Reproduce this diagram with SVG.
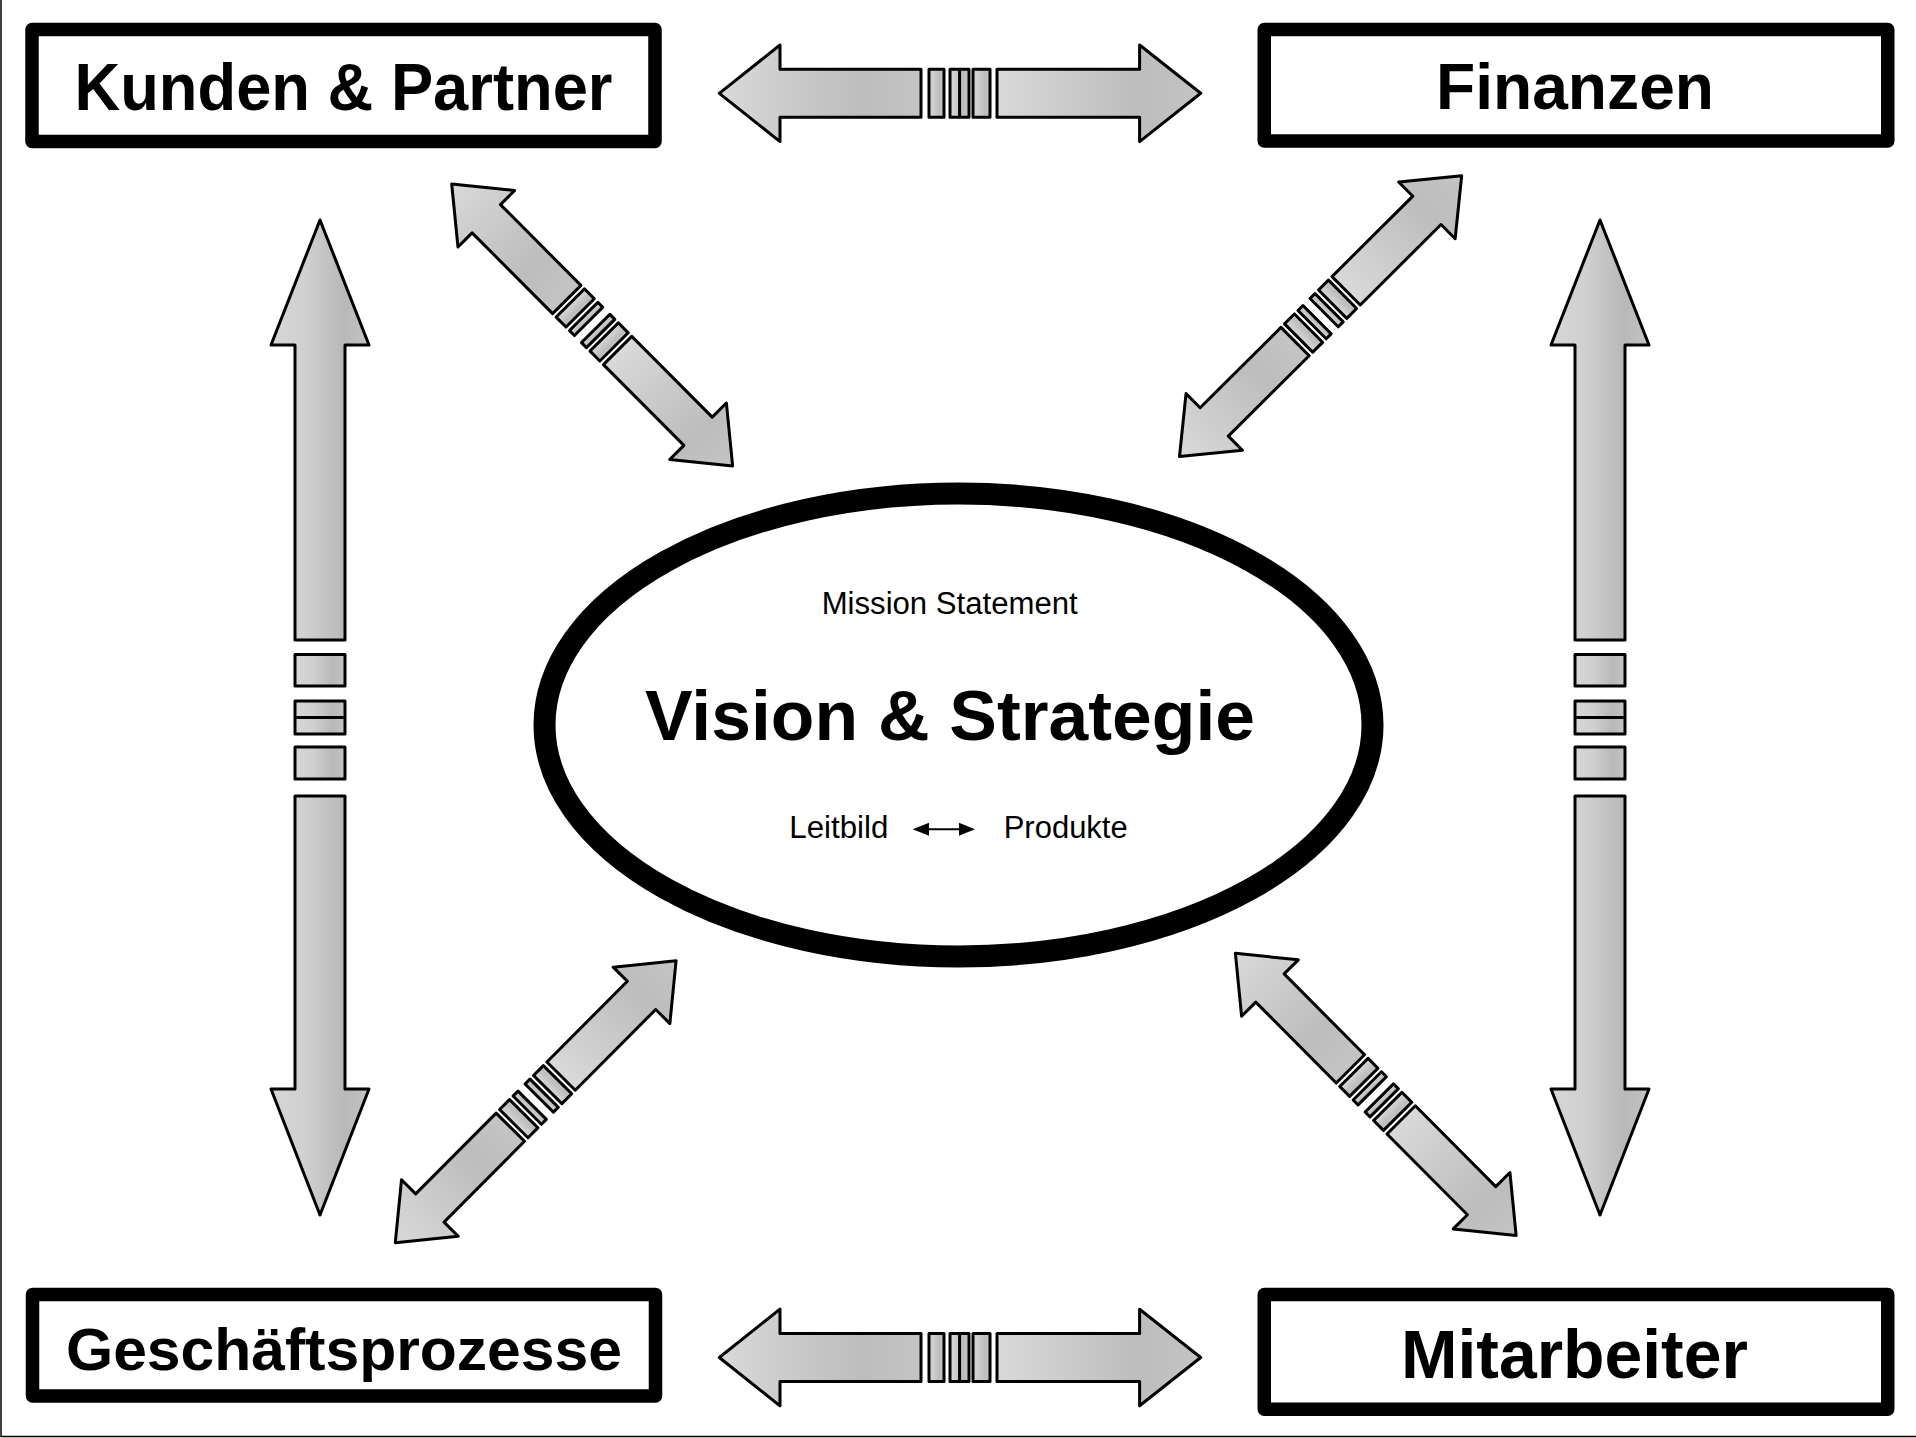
<svg xmlns="http://www.w3.org/2000/svg" width="1916" height="1438" viewBox="0 0 1916 1438">
<style>
.box{fill:#fff;stroke:#000;stroke-width:13.5;stroke-linejoin:round}
.ah{fill:url(#gH);stroke:#000;stroke-width:3;stroke-linejoin:round}
.av{fill:url(#gV);stroke:#000;stroke-width:3;stroke-linejoin:round}
.sep{stroke:#000;stroke-width:3;fill:none}
.big{font-family:"Liberation Sans",Arial,Helvetica,sans-serif;font-weight:bold;text-anchor:middle;fill:#000}
.small{font-family:"Liberation Sans",Arial,Helvetica,sans-serif;font-size:31px;fill:#000}
</style>
<defs>
<linearGradient id="gH" x1="0" y1="0" x2="1" y2="0">
<stop offset="0" stop-color="#d9d9d9"/>
<stop offset="0.7" stop-color="#bdbdbd"/>
<stop offset="1" stop-color="#c4c4c4"/>
</linearGradient>
<linearGradient id="gV" x1="0" y1="0" x2="1" y2="0">
<stop offset="0" stop-color="#d6d6d6"/>
<stop offset="0.35" stop-color="#d0d0d0"/>
<stop offset="0.75" stop-color="#b8b8b8"/>
<stop offset="1" stop-color="#c4c4c4"/>
</linearGradient>
<g id="hArrow">
<path class="ah" d="M719.3,0 L780,-48.3 L780,-24 L921,-24 L921,24 L780,24 L780,48.3 Z"/>
<rect class="ah" x="929" y="-24" width="15" height="48"/>
<rect class="ah" x="950" y="-24" width="19" height="48"/>
<line class="sep" x1="959.6" y1="-24" x2="959.6" y2="24"/>
<rect class="ah" x="973" y="-24" width="17" height="48"/>
<path class="ah" d="M997,-24 L1139.6,-24 L1139.6,-48.3 L1200.7,0 L1139.6,48.3 L1139.6,24 L997,24 Z"/>
</g>
<g id="vArrow">
<path class="av" d="M0,220 L49,345 L25,345 L25,640 L-25,640 L-25,345 L-49,345 Z"/>
<rect class="av" x="-25" y="654.5" width="50" height="31.5"/>
<rect class="av" x="-25" y="701" width="50" height="33"/>
<line class="sep" x1="-25" y1="717.5" x2="25" y2="717.5"/>
<rect class="av" x="-25" y="747" width="50" height="32"/>
<path class="av" d="M-25,796 L25,796 L25,1089 L49,1089 L0,1215 L-49,1089 L-25,1089 Z"/>
</g>
<g id="dArrow">
<path class="ah" d="M0,0 L49,-40 L49,-20 L163,-20 L163,20 L49,20 L49,40 Z"/>
<rect class="ah" x="168" y="-20" width="14" height="40"/>
<rect class="ah" x="187" y="-20" width="7" height="40"/>
<rect class="ah" x="204" y="-20" width="7" height="40"/>
<rect class="ah" x="216" y="-20" width="14" height="40"/>
<path class="ah" d="M235,-20 L349,-20 L349,-40 L398,0 L349,40 L349,20 L235,20 Z"/>
</g>
</defs>
<rect x="0" y="0" width="1916" height="1438" fill="#fff"/>
<path d="M1,0 V1436.5 H1916" fill="none" stroke="#000" stroke-width="1.5"/>

<g id="connectors">
<use href="#hArrow" transform="translate(0,93.3)"/>
<use href="#hArrow" transform="translate(0,1357.5)"/>
<use href="#vArrow" transform="translate(320,0)"/>
<use href="#vArrow" transform="translate(1600,0)"/>
<use href="#dArrow" transform="translate(451.7,184) rotate(45.1)"/>
<use href="#dArrow" transform="translate(1179.5,456.5) rotate(-44.85)"/>
<use href="#dArrow" transform="translate(395.3,1242.7) rotate(-45.13)"/>
<use href="#dArrow" transform="translate(1235.4,953.3) rotate(45.14)"/>
</g>

<g id="node-kunden">
<rect class="box" x="32" y="29.5" width="623" height="112"/>
<text class="big" x="343.5" y="110" font-size="66" textLength="538" lengthAdjust="spacingAndGlyphs">Kunden &amp; Partner</text>
</g>
<g id="node-finanzen">
<rect class="box" x="1264.25" y="29.5" width="623.5" height="111.5"/>
<text class="big" x="1575" y="109.3" font-size="64" textLength="278" lengthAdjust="spacingAndGlyphs">Finanzen</text>
</g>
<g id="node-geschaeftsprozesse">
<rect class="box" x="32.5" y="1294.5" width="623" height="101.5"/>
<text class="big" x="344" y="1370" font-size="60" textLength="556" lengthAdjust="spacingAndGlyphs">Geschäftsprozesse</text>
</g>
<g id="node-mitarbeiter">
<rect class="box" x="1264.25" y="1294.5" width="623.5" height="114.8"/>
<text class="big" x="1574.4" y="1378.3" font-size="68" textLength="347" lengthAdjust="spacingAndGlyphs">Mitarbeiter</text>
</g>

<g id="node-vision">
<ellipse cx="958.5" cy="725" rx="414" ry="231.5" fill="#fff" stroke="#000" stroke-width="22"/>
<text class="small" x="821.7" y="614" textLength="256" lengthAdjust="spacingAndGlyphs">Mission Statement</text>
<text class="big" x="950" y="740" font-size="71" textLength="610" lengthAdjust="spacingAndGlyphs">Vision &amp; Strategie</text>
<text class="small" x="789.3" y="838.3" textLength="99" lengthAdjust="spacingAndGlyphs">Leitbild</text>
<text class="small" x="1003.7" y="838.3" textLength="124" lengthAdjust="spacingAndGlyphs">Produkte</text>
<line x1="924" y1="829.3" x2="964" y2="829.3" stroke="#000" stroke-width="2"/>
<path d="M912.7,829.3 L929,822.8 L929,835.8 Z" fill="#000"/>
<path d="M975,829.3 L959,822.8 L959,835.8 Z" fill="#000"/>
</g>
</svg>
